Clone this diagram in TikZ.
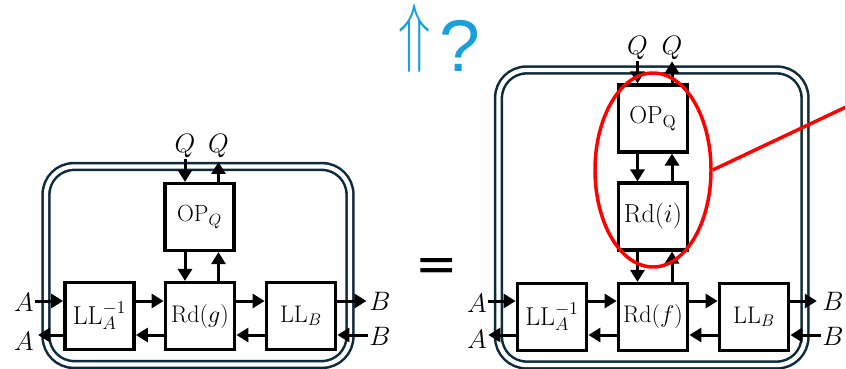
\RequirePackage{fix-cm}
\documentclass[tikz,border=0pt]{standalone}
\usepackage{fontspec}
\newfontfamily\eqfont{DejaVu Sans}
\newfontfamily\askfont{Liberation Sans}
\usetikzlibrary{arrows.meta,calc,shapes.geometric}
\definecolor{shellc}{HTML}{0E2B3B}
\definecolor{qblue}{HTML}{1A9FDB}
\definecolor{hred}{HTML}{FF0000}
\definecolor{pinkedge}{HTML}{FFC9C9}
\tikzset{
  >={Triangle[length=9pt,width=10.5pt]},
  bx/.style={draw=black,fill=white,line width=2.6pt,minimum width=52pt,minimum height=50pt,inner sep=0pt,font=\fontsize{18}{20}\selectfont},
  wire/.style={->,line width=2.25pt},
  io/.style={inner sep=1pt,font=\fontsize{20}{22}\selectfont},
  shell/.style={draw=shellc,double=white,line width=1.9pt,double distance=3.2pt,rounded corners=21pt},
}

\begin{document}
\begin{tikzpicture}[x=0.75pt,y=0.75pt]
  \useasboundingbox (0,0) rectangle (846,368);
  \coordinate (hi) at (0,67);
  \coordinate (lo) at (0,33);
  % frames
  \draw[shell] (46,3.5) rectangle (350,201.5);
  \draw[shell] (498.5,3) rectangle (805,298);
  % left side
  \node[bx,font=\fontsize{17.5}{20}\selectfont] (opl) at (199.5,151) {OP$_Q$};
  \node[bx,font=\fontsize{19.4}{22}\selectfont] (lla) at (99.5,52) {LL$_A^{-1}$};
  \node[bx] (rdg) at (200,52) {Rd$(g)$};
  \node[bx] (llb) at (301,52) {LL$_B$};
  \node[io] (qinl) at (185,222) {$Q$};
  \node[io] (qoutl) at (218.5,222) {$Q$};
  \node[io] (ainl) at (24,65.5) {$A$};
  \node[io] (aoutl) at (24,26.5) {$A$};
  \node[io] (boutl) at (380,66.5) {$B$};
  \node[io] (binl) at (380,31.5) {$B$};
  \draw[wire] (qinl.south) -- (qinl.south |- opl.north);
  \draw[wire,shorten >=2pt] (qoutl.south |- opl.north) -- (qoutl.south);
  \draw[wire] (opl.south -| qinl) -- (rdg.north -| qinl);
  \draw[wire] (rdg.north -| qoutl) -- (opl.south -| qoutl);
  \draw[wire] (ainl.east |- hi) -- (lla.west |- hi);
  \draw[wire,shorten >=2pt] (lla.west |- lo) -- (aoutl.east |- lo);
  \draw[wire] (lla.east |- hi) -- (rdg.west |- hi);
  \draw[wire] (rdg.west |- lo) -- (lla.east |- lo);
  \draw[wire] (rdg.east |- hi) -- (llb.west |- hi);
  \draw[wire] (llb.west |- lo) -- (rdg.east |- lo);
  \draw[wire,shorten >=1pt] (llb.east |- hi) -- (boutl.west |- hi);
  \draw[wire] (binl.west |- lo) -- (llb.east |- lo);
  % middle
  \node[text=qblue,inner sep=0pt,anchor=base west] (ask) at (398,296)
    {\fontsize{55}{60}\selectfont\raisebox{0.2em}{\scalebox{0.72}[1.05]{$\Uparrow$}}\hspace{0.12em}\askfont ?};
  \node[inner sep=0pt,anchor=base,font=\eqfont\fontsize{38}{42}\selectfont] (eq) at (436.5,87) {=};
  % right side
  \node[bx,font=\fontsize{18.5}{22}\selectfont] (opr) at (653,249.5) {OP$_{\mathrm{Q}}$};
  \node[bx,font=\fontsize{19.5}{22}\selectfont] (rdi) at (653,151.5) {Rd$(i)$};
  \node[bx] (rdf) at (653,51) {Rd$(f)$};
  \node[bx,font=\fontsize{19.4}{22}\selectfont] (llar) at (552,51) {LL$_A^{-1}$};
  \node[bx] (llbr) at (754,51) {LL$_B$};
  \node[io] (qinr) at (637.5,320) {$Q$};
  \node[io] (qoutr) at (672,320) {$Q$};
  \node[io] (ainr) at (477,64.5) {$A$};
  \node[io] (aoutr) at (477,29) {$A$};
  \node[io] (boutr) at (833,66.5) {$B$};
  \node[io] (binr) at (833,31.5) {$B$};
  \draw[wire] (qinr.south) -- (qinr.south |- opr.north);
  \draw[wire] (qoutr.south |- opr.north) -- (qoutr.south);
  \draw[wire] (opr.south -| qinr) -- (rdi.north -| qinr);
  \draw[wire] (rdi.north -| qoutr) -- (opr.south -| qoutr);
  \draw[wire] (rdi.south -| qinr) -- (rdf.north -| qinr);
  \draw[wire] (rdf.north -| qoutr) -- (rdi.south -| qoutr);
  \draw[wire] (ainr.east |- hi) -- (llar.west |- hi);
  \draw[wire] (llar.west |- lo) -- (aoutr.east |- lo);
  \draw[wire] (llar.east |- hi) -- (rdf.west |- hi);
  \draw[wire] (rdf.west |- lo) -- (llar.east |- lo);
  \draw[wire] (rdf.east |- hi) -- (llbr.west |- hi);
  \draw[wire] (llbr.west |- lo) -- (rdf.east |- lo);
  \draw[wire,shorten >=3pt] (llbr.east |- hi) -- (boutr.west |- hi);
  \draw[wire] (binr.west |- lo) -- (llbr.east |- lo);
  % highlight
  \node[draw=hred,line width=2.6pt,ellipse,minimum width=87pt,minimum height=145.5pt,inner sep=0pt] (ring) at (653,198) {};
  \coordinate (callout) at (846,261);
  \draw[hred,line width=2.6pt] (ring.east) -- (callout);
  \draw[pinkedge,line width=0.8pt] (845.5,250) -- (845.5,368);
\end{tikzpicture}
\end{document}
